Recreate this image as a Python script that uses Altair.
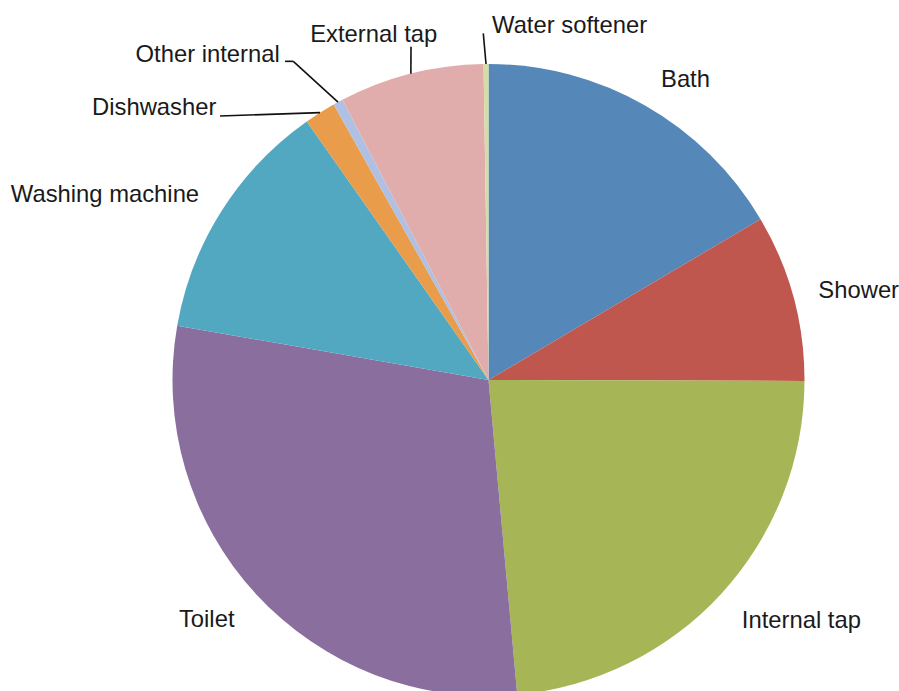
import altair as alt
import pandas as pd

# ---- data (percent of household water use) ----
categories = ["Bath", "Shower", "Internal tap", "Toilet", "Washing machine",
              "Dishwasher", "Other internal", "External tap", "Water softener"]
values = [16.5, 8.55, 23.5, 29.2, 12.5, 1.6, 0.5, 7.4, 0.25]

# ---- styles / layout ----
colors = ["#5587B9", "#C0574F", "#A6B556", "#8A6E9E", "#53A8C1",
          "#E99C4A", "#AFC0E2", "#E0ADAC", "#D3DEA6"]
CX, CY, R = 488.5, 380.0, 316.0
# label placement: distance from centre (px) and angle shift from slice middle (deg)
label_radius = [353.3, 379.1, 399.4, 374.5, 422.7, 426.6, 424.5, 357.2, 356.7]
label_shift = [4.19, 2.77, -4.04, 1.46, -7.54, -19.38, -12.98, -4.52, 13.6]
# leader lines: end distance (0 = none), angle shift (deg), horizontal tail (px)
leader_radius = [0, 0, 0, 0, 0, 376.5, 373.7, 342.2, 346.7]
leader_shift = [0, 0, 0, 0, 0, -13.26, -3.05, 1.13, -0.41]
leader_tail = [0, 0, 0, 0, 0, 0, 8.3, 0, 0]

df = pd.DataFrame({
    "idx": list(range(len(categories))),
    "category": categories,
    "value": values,
    "lr": label_radius,
    "loff": label_shift,
    "er": leader_radius,
    "eoff": leader_shift,
    "tail": leader_tail,
})

base = (
    alt.Chart(df)
    .transform_joinaggregate(total="sum(value)")
    .transform_window(cum="sum(value)", sort=[alt.SortField("idx")], frame=[None, 0])
    .transform_calculate(mid="((datum.cum - datum.value/2)/datum.total)*2*PI")
)

arcs = alt.Chart(df).mark_arc(outerRadius=R).encode(
    theta=alt.Theta("value:Q", stack=True),
    color=alt.Color("category:N", scale=alt.Scale(domain=categories, range=colors), legend=None),
    order=alt.Order("idx:Q"),
    x=alt.value(CX),
    y=alt.value(CY),
)

labels = base.transform_calculate(
    lx=f"{CX} + datum.lr*sin(datum.mid + datum.loff*PI/180)",
    ly=f"{CY} - datum.lr*cos(datum.mid + datum.loff*PI/180)",
).mark_text(
    font="Liberation Sans", fontSize=23.8, color="#1a1a1a",
    align="center", baseline="alphabetic",
).encode(
    x=alt.X("lx:Q", scale=None, axis=None),
    y=alt.Y("ly:Q", scale=None, axis=None),
    text="category:N",
)

lead = base.transform_filter("datum.er > 0").transform_calculate(
    sx=f"{CX} + {R}*sin(datum.mid)",
    sy=f"{CY} - {R}*cos(datum.mid)",
    ex=f"{CX} + datum.er*sin(datum.mid + datum.eoff*PI/180)",
    ey=f"{CY} - datum.er*cos(datum.mid + datum.eoff*PI/180)",
)

lines = lead.mark_rule(color="#111111", strokeWidth=1.6).encode(
    x=alt.X("sx:Q", scale=None, axis=None),
    y=alt.Y("sy:Q", scale=None, axis=None),
    x2="ex:Q",
    y2="ey:Q",
)

tails = lead.transform_filter("datum.tail > 0").transform_calculate(
    tx="datum.ex - datum.tail"
).mark_rule(color="#111111", strokeWidth=1.6).encode(
    x=alt.X("ex:Q", scale=None, axis=None),
    y=alt.Y("ey:Q", scale=None, axis=None),
    x2="tx:Q",
    y2="ey:Q",
)

chart = (
    alt.layer(arcs, lines, tails, labels)
    .properties(width=899, height=691, autosize="none", padding=0, background="white")
    .configure_view(stroke=None)
)

chart.save("out.html", embed_options={"renderer": "svg", "actions": False})
